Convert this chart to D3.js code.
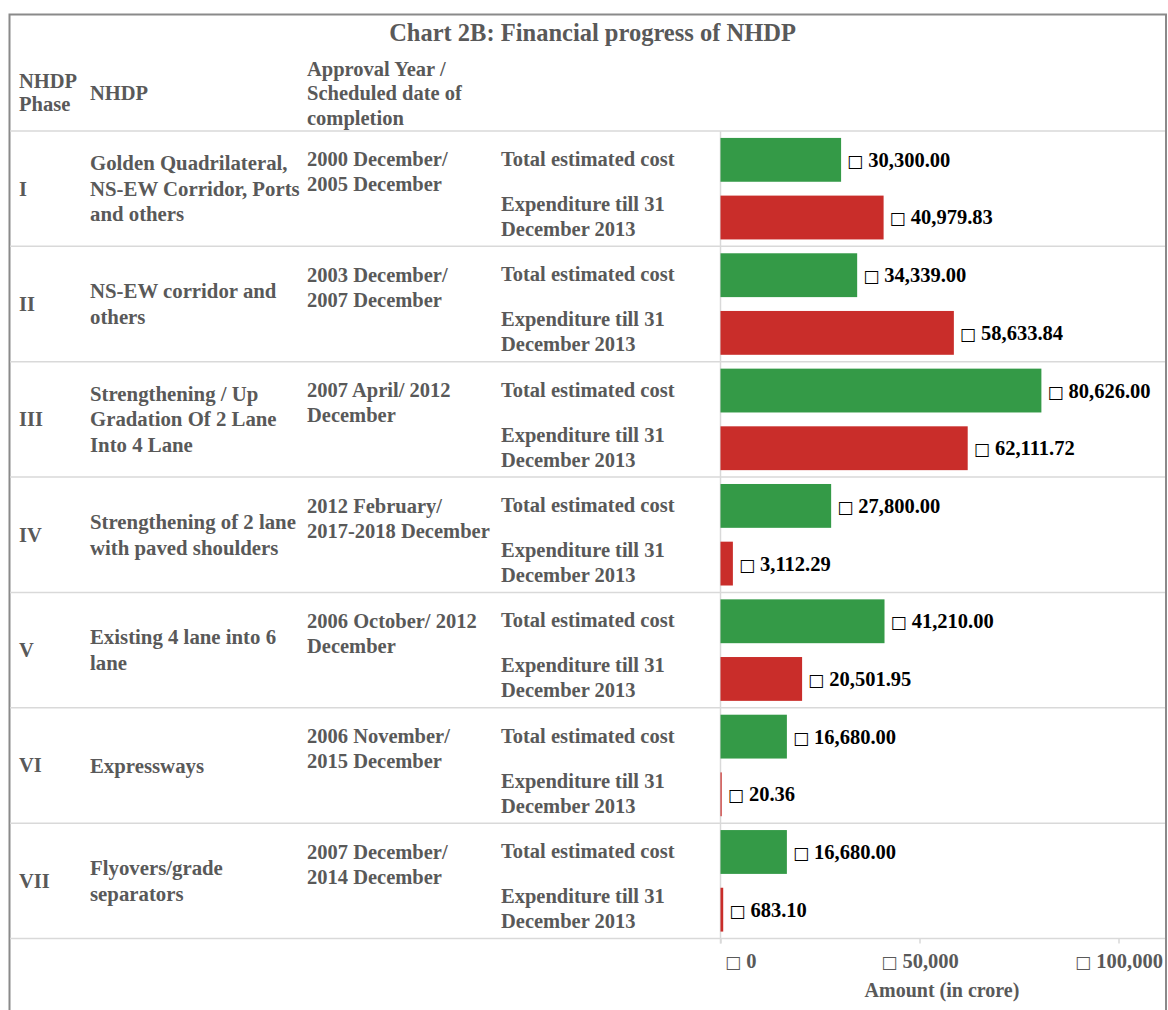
<!DOCTYPE html>
<html>
<head>
<meta charset="utf-8">
<script src="https://cdn.jsdelivr.net/npm/d3@7"></script>
<style>
  html, body { margin: 0; padding: 0; background: #fff; }
  svg { display: block; }
  text { font-family: "Liberation Serif", "Times New Roman", serif; font-weight: bold; }
  .cur { font-weight: normal; font-family: "DejaVu Sans", sans-serif; }
</style>
</head>
<body>
<div id="chart"></div>
<script>
const title = "Chart 2B: Financial progress of NHDP";
const headerPhase = ["NHDP", "Phase"];
const headerNhdp = ["NHDP"];
const headerApproval = ["Approval Year /", "Scheduled date of", "completion"];
const phases = ["I", "II", "III", "IV", "V", "VI", "VII"];
const nhdpNames = [
  ["Golden Quadrilateral,", "NS-EW Corridor, Ports", "and others"],
  ["NS-EW corridor and", "others"],
  ["Strengthening / Up", "Gradation Of 2 Lane", "Into 4 Lane"],
  ["Strengthening of 2 lane", "with paved shoulders"],
  ["Existing 4 lane into 6", "lane"],
  ["Expressways"],
  ["Flyovers/grade", "separators"]
];
const approvalDates = [
  ["2000 December/", "2005 December"],
  ["2003 December/", "2007 December"],
  ["2007 April/ 2012", "December"],
  ["2012 February/", "2017-2018 December"],
  ["2006 October/ 2012", "December"],
  ["2006 November/", "2015 December"],
  ["2007 December/", "2014 December"]
];
const seriesLabels = [["Total estimated cost"], ["Expenditure till 31", "December 2013"]];
const totalCost = [30300.00, 34339.00, 80626.00, 27800.00, 41210.00, 16680.00, 16680.00];
const expenditure = [40979.83, 58633.84, 62111.72, 3112.29, 20501.95, 20.36, 683.10];
const xTicks = [0, 50000, 100000];
const axisTitle = "Amount (in crore)";
const currency = "\u25A1";

const W = 1168, H = 1010;
const gray = "#595959";
const green = "#349a47", red = "#c92d2a";
const lineCol = "#d9d9d9";

const svg = d3.select("#chart").append("svg").attr("width", W).attr("height", H);

const tableTop = 131, tableBottom = 938.5;
const leftX = 10, rightX = 1165;

const x = d3.scaleLinear().domain([0, 100000]).range([720.5, 1118.5]);
const rowY = d3.scaleBand().domain(phases).range([tableTop, tableBottom]);

const bars = [];
phases.forEach((p, i) => {
  bars.push({key: p + "-t", value: totalCost[i], color: green, label: seriesLabels[0], phase: p});
  bars.push({key: p + "-e", value: expenditure[i], color: red, label: seriesLabels[1], phase: p});
});
const barY = d3.scaleBand().domain(bars.map(d => d.key)).range([tableTop, tableBottom])
  .paddingInner(0.24).paddingOuter(0.12);

// border
svg.append("rect").attr("x", 9.5).attr("y", 14.5).attr("width", 1156.5).attr("height", 1010)
  .attr("fill", "none").attr("stroke", "#8a8a8a").attr("stroke-width", 2);

// title
svg.append("text").attr("x", 592.5).attr("y", 41).attr("text-anchor", "middle")
  .attr("fill", gray).style("font-size", "24.5px").text(title);

// row lines
const lineYs = [tableTop].concat(phases.map(p => rowY(p) + rowY.bandwidth()));
svg.append("g").selectAll("line").data(lineYs).join("line")
  .attr("x1", leftX).attr("x2", rightX).attr("y1", d => d).attr("y2", d => d)
  .attr("stroke", lineCol).attr("stroke-width", 1.5);

// vertical axis line
svg.append("line").attr("x1", x(0)).attr("x2", x(0)).attr("y1", tableTop).attr("y2", tableBottom + 5)
  .attr("stroke", lineCol).attr("stroke-width", 1.5);

function multiline(g, lines, xPos, yCenter, lh, opts) {
  const t = g.append("text").attr("x", xPos).attr("fill", opts.fill || gray)
    .style("font-size", (opts.size || 20.5) + "px");
  const y0 = yCenter - (lines.length - 1) * lh / 2;
  lines.forEach((l, k) => {
    t.append("tspan").attr("x", xPos).attr("y", y0 + k * lh).attr("dy", "0.34em").text(l);
  });
  return t;
}

function currencyText(sel, numStr) {
  sel.text(null);
  sel.append("tspan").attr("class", "cur").style("font-size", "17px").text(currency);
  sel.append("tspan").text(" " + numStr);
}

// header
const hg = svg.append("g");
multiline(hg, headerPhase, 19, 92.5, 23.5, {});
multiline(hg, headerNhdp, 90, 93, 24, {});
multiline(hg, headerApproval, 307, 93.5, 24.5, {});

// table cells
const tg = svg.append("g");
phases.forEach((p, i) => {
  const top = rowY(p), c = top + rowY.bandwidth() / 2;
  multiline(tg, [p], 19, c, 25, {});
  multiline(tg, nhdpNames[i], 90, c, 25.5, {size: 20.8});
  const ap = approvalDates[i];
  multiline(tg, ap, 307, top + 28.5 + (ap.length - 1) * 25 / 2, 25, {});
});

// series labels
svg.append("g").selectAll("g").data(bars).join("g").each(function(d) {
  multiline(d3.select(this), d.label, 501, barY(d.key) + barY.bandwidth() / 2 - 1, 25, {});
});

// bars
svg.append("g").selectAll("rect").data(bars).join("rect")
  .attr("x", x(0))
  .attr("y", d => barY(d.key))
  .attr("width", d => Math.max(1.2, x(d.value) - x(0)))
  .attr("height", barY.bandwidth())
  .attr("fill", d => d.color);

// value labels
const fmt = d3.format(",.2f");
svg.append("g").selectAll("text").data(bars).join("text")
  .attr("x", d => x(0) + Math.max(1.2, x(d.value) - x(0)) + 6)
  .attr("y", d => barY(d.key) + barY.bandwidth() / 2)
  .attr("dy", "0.34em")
  .attr("fill", "#000")
  .style("font-size", "20.5px")
  .each(function(d) { currencyText(d3.select(this), fmt(d.value)); });

// x axis
const axis = d3.axisBottom(x).tickValues(xTicks).tickSize(5).tickPadding(10)
  .tickFormat(d => currency + " " + d3.format(",")(d));
const ag = svg.append("g").attr("transform", `translate(0,${tableBottom})`).call(axis);
ag.select(".domain").remove();
ag.selectAll(".tick line").attr("stroke", lineCol).attr("stroke-width", 1.5);
ag.selectAll(".tick text").attr("fill", gray).style("font-size", "20.5px")
  .style("font-family", "'Liberation Serif', serif").style("font-weight", "bold")
  .each(function(d) { currencyText(d3.select(this), d3.format(",")(d)); });
ag.selectAll(".tick").filter(d => d === 0).select("text").attr("text-anchor", "start").attr("dx", 4);

svg.append("text").attr("x", 942).attr("y", 997).attr("text-anchor", "middle")
  .attr("fill", gray).style("font-size", "20px").text(axisTitle);
</script>
</body>
</html>
